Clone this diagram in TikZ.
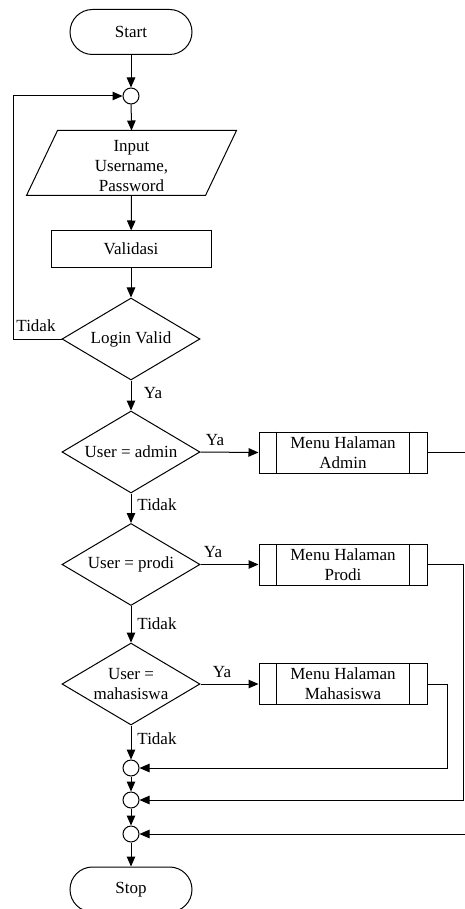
\documentclass[tikz,border=0pt]{standalone}
\usepackage{fontspec}
\setmainfont{Liberation Serif}
\usetikzlibrary{shapes.geometric,arrows.meta}
\begin{document}
\begin{tikzpicture}[x=1pt,y=-1pt, line width=1pt, >={Triangle[length=10pt,width=8.5pt]},
 every node/.style={font=\fontsize{17}{20}\selectfont, align=center, inner sep=0pt},
 term/.style={draw, rectangle, rounded corners=22.5pt, minimum width=122pt, minimum height=45pt},
 conn/.style={draw, circle, minimum size=16pt},
 procbox/.style={draw, rectangle, minimum width=160pt, minimum height=36pt},
 dec/.style={draw, diamond, minimum width=138pt, minimum height=82pt},
 subproc/.style={draw, rectangle, minimum width=168pt, minimum height=41pt},
 lbl/.style={font=\fontsize{17}{20}\selectfont}]
\useasboundingbox (0,0) rectangle (464,909);

% nodes
\node[term] (start) at (131,32) {Start};
\node[conn] (c0) at (131,96) {};
\node[minimum width=178pt, minimum height=64pt] (inp) at (131.5,163) {};
\node at (131.5,166) (inptxt) {Input\\Username,\\Password};
\draw ([xshift=-15.5pt]inp.south west) -- ([xshift=15.5pt]inp.north west) -- ([xshift=15.5pt]inp.north east) -- ([xshift=-15.5pt]inp.south east) -- cycle;
\node[procbox] (val) at (131,249) {Validasi};
\node[dec] (login) at (131,339) {};
\node (logintxt) at (login) {Login Valid};

\node[dec] (dadm) at (131,452) {};
\node (dadmtxt) at (dadm) {User = admin};
\node[dec] (dpro) at (131,564.5) {};
\node (dprotxt) at (dpro) {User = prodi};
\node[dec] (dmhs) at (131,684) {};
\node (dmhstxt) at (dmhs) {User =\\mahasiswa};

\node[subproc] (badm) at (343,452.5) {Menu Halaman\\Admin};
\node[subproc] (bpro) at (343,564.5) {Menu Halaman\\Prodi};
\node[subproc] (bmhs) at (343,684) {Menu Halaman\\Mahasiswa};
\foreach \b in {badm,bpro,bmhs}{
  \draw ([xshift=18pt]\b.north west) -- ([xshift=18pt]\b.south west);
  \draw ([xshift=-18pt]\b.north east) -- ([xshift=-18pt]\b.south east);
}

\node[conn] (c1) at (131,768) {};
\node[conn] (c2) at (131,800) {};
\node[conn] (c3) at (131,834) {};
\node[term] (stop) at (131,889.5) {Stop};

\coordinate (lp1) at (13,339);
\coordinate (lp2) at (13,96);
\coordinate (ra1) at (472,452.5);
\coordinate (ra2) at (472,834);
\coordinate (rp1) at (463,564.5);
\coordinate (rp2) at (463,800);
\coordinate (rm1) at (447,684);
\coordinate (rm2) at (447,768);

% connectors
\draw[->] (start) -- (c0);
\draw[->] (c0) -- (inp.north);
\draw[->] (inp.south) -- (val);
\draw[->] (val) -- (login);
\draw[->] (login.west) -- (lp1) -- (lp2) -- (c0);
\draw[->] (login) -- (dadm);
\draw[->] (dadm) -- (dpro);
\draw[->] (dpro) -- (dmhs);
\draw[->] (dmhs) -- (c1);
\draw[->] (c1) -- (c2);
\draw[->] (c2) -- (c3);
\draw[->] (c3) -- (stop);
\draw[->] (dadm.east) -- (badm.west);
\draw[->] (dpro.east) -- (bpro.west);
\draw[->] (dmhs.east) -- (bmhs.west);
\draw[->] (badm.east) -- (ra1) -- (ra2) -- (c3.east);
\draw[->] (bpro.east) -- (rp1) -- (rp2) -- (c2.east);
\draw[->] (bmhs.east) -- (rm1) -- (rm2) -- (c1.east);

% labels
\node[lbl] (l1) at (36,326) {Tidak};
\node[lbl] (l2) at (153,393) {Ya};
\node[lbl] (l3) at (215,440) {Ya};
\node[lbl] (l4) at (157,505) {Tidak};
\node[lbl] (l5) at (213,552) {Ya};
\node[lbl] (l6) at (157,624) {Tidak};
\node[lbl] (l7) at (222,672) {Ya};
\node[lbl] (l8) at (157,739) {Tidak};
\end{tikzpicture}
\end{document}
